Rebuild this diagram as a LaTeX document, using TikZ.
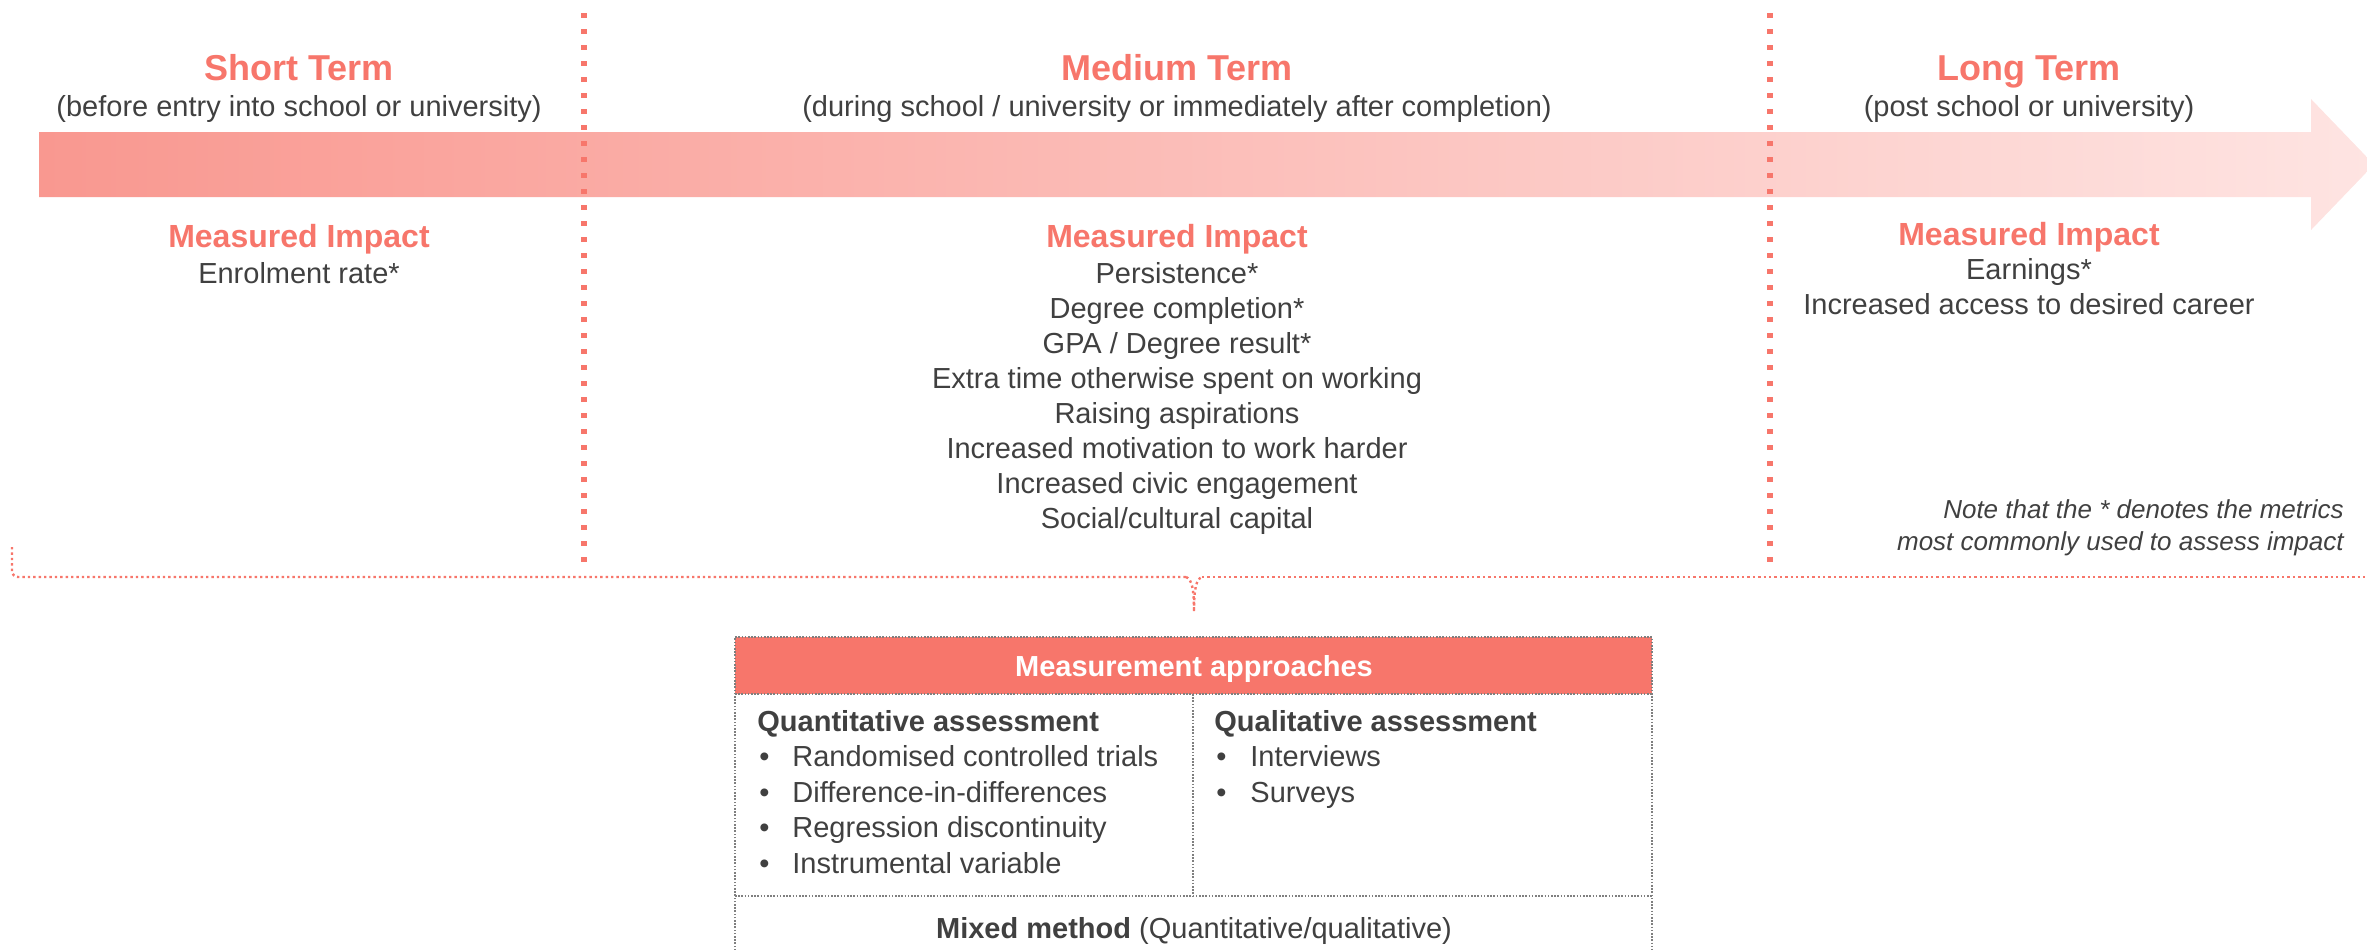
\documentclass[tikz,border=0pt]{standalone}
\usepackage{fontspec}
\setmainfont{Liberation Sans}
\definecolor{salmon}{HTML}{F7766B}
\definecolor{txt}{HTML}{404040}
\definecolor{arrowL}{RGB}{249,152,144}
\definecolor{arrowR}{RGB}{254,228,226}
\definecolor{tgray}{HTML}{7F7F7F}
\tikzset{
  termtitle/.style={font=\bfseries\fontsize{18}{21}\selectfont, text=salmon, anchor=base, inner sep=0pt},
  subtitle/.style={font=\fontsize{14.5}{17}\selectfont, text=txt, anchor=base, inner sep=0pt},
  impacthead/.style={font=\bfseries\fontsize{16}{19}\selectfont, text=salmon, anchor=base, inner sep=0pt},
  itemtext/.style={font=\fontsize{14.5}{17}\selectfont, text=txt, anchor=base, inner sep=0pt},
  notetext/.style={font=\itshape\fontsize{13}{16}\selectfont, text=txt, anchor=base east, inner sep=0pt},
  divider/.style={draw=salmon, line width=3.25pt, dash pattern=on 2.5pt off 5.5pt},
  bracket/.style={draw=salmon, line width=1.2pt, dash pattern=on 1.2pt off 1.5pt, rounded corners=3pt},
  tborder/.style={draw=tgray, line width=0.9pt, dash pattern=on 0.8pt off 0.8pt},
  tabhead/.style={font=\bfseries\fontsize{14.5}{17}\selectfont, text=white, anchor=base, inner sep=0pt},
  tabbold/.style={font=\bfseries\fontsize{14.5}{17}\selectfont, text=txt, anchor=base west, inner sep=0pt},
  tabitem/.style={font=\fontsize{14.5}{17}\selectfont, text=txt, anchor=base west, inner sep=0pt},
}
\begin{document}
\begin{tikzpicture}[x=0.5pt,y=-0.5pt]
\useasboundingbox (0,0) rectangle (2367,949);
\begin{scope}
\clip (0,0) rectangle (2367,949);
% timeline arrow
\shade[left color=arrowL, right color=arrowR]
  (39,132) -- (2311,132) -- (2311,99) -- (2374,164.5) -- (2311,230) -- (2311,197) -- (39,197) -- cycle;
% dividers
\draw[divider] (584,13) -- (584,566);
\draw[divider] (1770,13) -- (1770,566);
% titles
\node[termtitle] (st) at (299,80) {Short Term};
\node[subtitle] (sts) at (299,116) {(before entry into school or university)};
\node[termtitle] (mt) at (1177,80) {Medium Term};
\node[subtitle] (mts) at (1177,116) {(during school / university or immediately after completion)};
\node[termtitle] (lt) at (2029,80) {Long Term};
\node[subtitle] (lts) at (2029,116) {(post school or university)};
% measured impact
\node[impacthead] (smi) at (299,247) {Measured Impact};
\node[itemtext] (s1) at (299,283) {Enrolment rate*};
\node[impacthead] (mmi) at (1177,247) {Measured Impact};
\foreach \t [count=\i] in {Persistence*, Degree completion*, GPA / Degree result*,
  Extra time otherwise spent on working, Raising aspirations,
  Increased motivation to work harder, Increased civic engagement,
  Social/cultural capital}
  \node[itemtext] (m\i) at (1177,{248+35*\i}) {\t};
\node[impacthead] (lmi) at (2029,245) {Measured Impact};
\node[itemtext] (l1) at (2029,279) {Earnings*};
\node[itemtext] (l2) at (2029,314) {Increased access to desired career};
% note
\node[notetext] (n1) at (2344,518) {Note that the * denotes the metrics};
\node[notetext] (n2) at (2344,550) {most commonly used to assess impact};
% bracket
\draw[bracket] (12,547) -- (12,577) -- (1186,577);
\draw[salmon, line width=1.2pt, dash pattern=on 1.2pt off 1.5pt]
  (1186,577) .. controls (1192,579) and (1194,590) .. (1194,611);
\draw[salmon, line width=1.2pt, dash pattern=on 1.2pt off 1.5pt]
  (1194,611) .. controls (1194,590) and (1196,579) .. (1202,577);
\draw[salmon, line width=1.2pt, dash pattern=on 1.2pt off 1.5pt] (1202,577) -- (2370,577);
% table
\fill[salmon] (735,637) rectangle (1652,694);
\draw[tborder] (735,960) -- (735,637) -- (1652,637) -- (1652,960);
\draw[tborder] (735,694) -- (1652,694);
\draw[tborder] (735,896) -- (1652,896);
\draw[tborder] (1193,694) -- (1193,896);
\node[tabhead] (th) at (1194,676) {Measurement approaches};
\node[tabbold] (qa) at (757,731) {Quantitative assessment};
\foreach \t [count=\i] in {Randomised controlled trials, Difference-in-differences,
  Regression discontinuity, Instrumental variable}{
  \node[tabitem] (qb\i) at (759,{731+35.5*\i}) {•};
  \node[tabitem] (qt\i) at (792,{731+35.5*\i}) {\t};
}
\node[tabbold] (ql) at (1214,731) {Qualitative assessment};
\foreach \t [count=\i] in {Interviews, Surveys}{
  \node[tabitem] (lb\i) at (1216,{731+35.5*\i}) {•};
  \node[tabitem] (lt\i) at (1250,{731+35.5*\i}) {\t};
}
\node[itemtext] (mm) at (1194,938) {\textbf{Mixed method} (Quantitative/qualitative)};
\end{scope}
\end{tikzpicture}
\end{document}
